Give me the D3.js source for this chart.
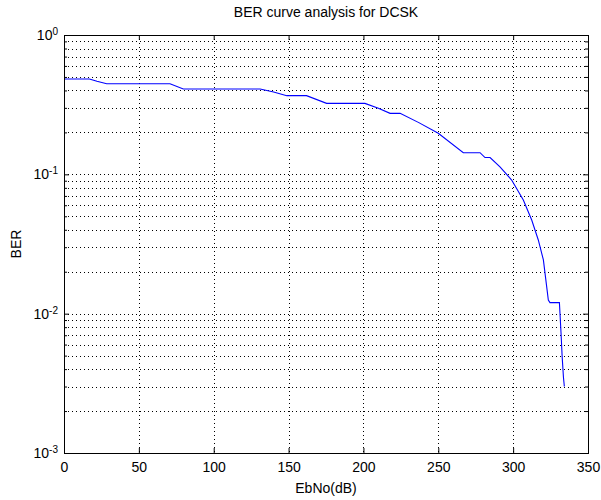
<!DOCTYPE html>
<html>
<head>
<meta charset="utf-8">
<title>BER curve analysis for DCSK</title>
<script src="https://d3js.org/d3.v7.min.js"></script>
<style>
  body { margin: 0; background: #fff; }
  svg { font-family: "Liberation Sans", Arial, Helvetica, sans-serif; }
  .axis path { stroke: #000; }
  .axis line { stroke: #000; }
  .axis text { fill: #000; font-size: 14px; font-family: "Liberation Sans", Arial, sans-serif; }
  .grid line { stroke: #000; stroke-width: 1; stroke-dasharray: 1,3; shape-rendering: crispEdges; }
</style>
</head>
<body>
<div id="chart"></div>
<script>
  // EbNo (dB) vs BER
  var ebno = [0, 17, 22, 28.5, 70.8, 79.7, 131, 140, 148.8, 162, 175.4, 201, 210, 217.8, 224.5,
              237, 250, 266.7, 277.9, 281.2, 284.6, 291.2, 299, 306.8, 312.4, 316.8, 320.2,
              323.5, 324.6, 330.9, 331.3, 332, 332.7, 333.6, 334.2]
  var ber = [0.483, 0.483, 0.465, 0.447, 0.447, 0.41, 0.41, 0.39, 0.367, 0.367, 0.323, 0.323, 0.298, 0.274, 0.274,
             0.235, 0.197, 0.143, 0.143, 0.132, 0.132, 0.113, 0.091, 0.0654, 0.047, 0.0338, 0.0243,
             0.0125, 0.012, 0.012, 0.01, 0.0072, 0.005, 0.0035, 0.003]

  var xTicks = [0, 50, 100, 150, 200, 250, 300, 350]
  var yTicks = [1e-3, 1e-2, 1e-1, 1]
  var yExp = ["-3", "-2", "-1", "0"]
  var yMinor = [2e-3, 3e-3, 4e-3, 5e-3, 6e-3, 7e-3, 8e-3, 9e-3,
                2e-2, 3e-2, 4e-2, 5e-2, 6e-2, 7e-2, 8e-2, 9e-2,
                0.2, 0.3, 0.4, 0.5, 0.6, 0.7, 0.8, 0.9]

  const W = 601, H = 500
  const pLeft = 64, pRight = 588, pTop = 35, pBottom = 453

  const svg = d3.select("#chart").append("svg")
      .attr("width", W)
      .attr("height", H)

  const x = d3.scaleLinear().domain([0, 350]).range([pLeft, pRight])
  const y = d3.scaleLog().domain([1e-3, 1]).range([pBottom, pTop])

  // grid
  const grid = svg.append("g").attr("class", "grid")
  grid.selectAll(".gx")
      .data(xTicks.slice(1, -1))
      .enter().append("line")
      .attr("x1", d => Math.round(x(d)) + 0.5).attr("x2", d => Math.round(x(d)) + 0.5)
      .attr("y1", pTop).attr("y2", pBottom)
  grid.selectAll(".gy")
      .data(yTicks.slice(1, -1).concat(yMinor))
      .enter().append("line")
      .attr("x1", pLeft).attr("x2", pRight)
      .attr("y1", d => Math.round(y(d)) + 0.5).attr("y2", d => Math.round(y(d)) + 0.5)

  // curve
  const line = d3.line()
      .x((d, i) => x(ebno[i]))
      .y(d => y(d))

  svg.append("path")
      .datum(ber)
      .attr("fill", "none")
      .attr("stroke", "#0000ff")
      .attr("stroke-width", 1.1)
      .attr("d", line)

  // axes with inward ticks
  svg.append("g")
      .attr("class", "axis")
      .attr("transform", `translate(0,${pBottom})`)
      .call(d3.axisBottom(x).tickValues(xTicks).tickSizeInner(-5).tickSizeOuter(0).tickPadding(9))

  svg.append("g")
      .attr("class", "axis")
      .attr("transform", `translate(0,${pTop})`)
      .call(d3.axisTop(x).tickValues(xTicks).tickSizeInner(-5).tickSizeOuter(0).tickFormat(""))

  const yl = svg.append("g")
      .attr("class", "axis")
      .attr("transform", `translate(${pLeft},0)`)
      .call(d3.axisLeft(y).tickValues(yTicks).tickSizeInner(-5).tickSizeOuter(0).tickPadding(6).tickFormat(""))

  yl.selectAll(".tick text")
      .each(function (d, i) {
          const t = d3.select(this)
          t.append("tspan").text("10")
          t.append("tspan").attr("dy", "-0.5em").attr("font-size", "10px").text(yExp[i])
      })

  svg.append("g")
      .attr("class", "axis")
      .attr("transform", `translate(${pRight},0)`)
      .call(d3.axisRight(y).tickValues(yTicks).tickSizeInner(-5).tickSizeOuter(0).tickFormat(""))

  svg.append("g")
      .attr("class", "axis")
      .attr("transform", `translate(${pLeft},0)`)
      .call(d3.axisLeft(y).tickValues(yMinor).tickSizeInner(-3).tickSizeOuter(0).tickFormat(""))
      .select(".domain").remove()

  svg.append("g")
      .attr("class", "axis")
      .attr("transform", `translate(${pRight},0)`)
      .call(d3.axisRight(y).tickValues(yMinor).tickSizeInner(-3).tickSizeOuter(0).tickFormat(""))
      .select(".domain").remove()

  // box
  svg.append("rect")
      .attr("x", pLeft + 0.5).attr("y", pTop + 0.5)
      .attr("width", pRight - pLeft).attr("height", pBottom - pTop)
      .attr("fill", "none")
      .attr("stroke", "#000")

  // labels
  svg.append("text")
      .attr("x", (pLeft + pRight) / 2).attr("y", 17)
      .attr("text-anchor", "middle")
      .attr("font-size", "14px")
      .text("BER curve analysis for DCSK")

  svg.append("text")
      .attr("x", (pLeft + pRight) / 2).attr("y", 493)
      .attr("text-anchor", "middle")
      .attr("font-size", "14px")
      .text("EbNo(dB)")

  svg.append("text")
      .attr("transform", `translate(21,${(pTop + pBottom) / 2}) rotate(-90)`)
      .attr("text-anchor", "middle")
      .attr("font-size", "14px")
      .text("BER")
</script>
</body>
</html>
